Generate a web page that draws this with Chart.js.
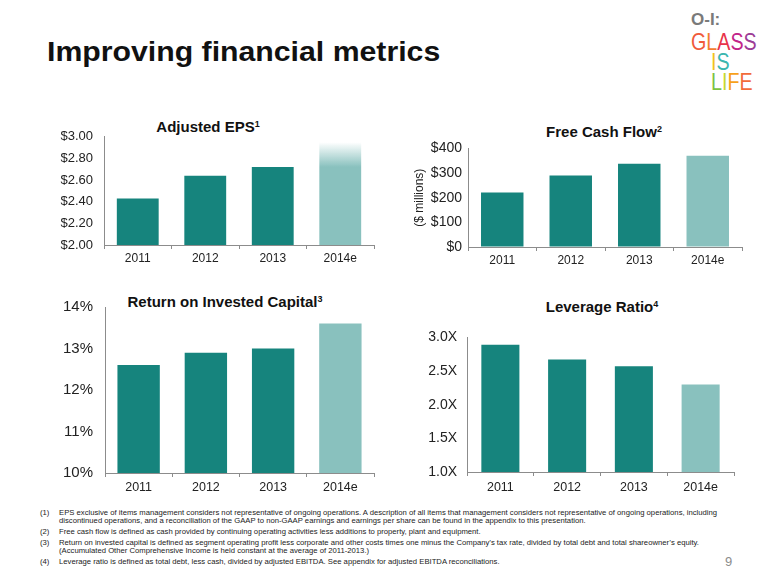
<!DOCTYPE html>
<html>
<head>
<meta charset="utf-8">
<script src="https://cdn.jsdelivr.net/npm/chart.js@4.4.0/dist/chart.umd.min.js"></script>
<style>
  body { margin: 0; background: #fff; width: 780px; height: 585px; position: relative; overflow: hidden;
         font-family: "Liberation Sans", Arial, sans-serif; color: #111; }
  canvas { position: absolute; }
  .t { position: absolute; white-space: nowrap; }
  .ct { position: absolute; white-space: nowrap; font-weight: bold; font-size: 15px; line-height: 15px; transform: translateX(-50%); color: #111; }
  .ct sup { font-size: 9px; vertical-align: 5px; line-height: 0; }
  .fn { position: absolute; white-space: nowrap; font-size: 7.7px; line-height: 8px; color: #222; }
  .logo { position: absolute; white-space: nowrap; font-size: 24px; line-height: 24px; transform-origin: left top; }
</style>
</head>
<body>

<div class="t" style="left:47px;top:39px;font-size:27px;line-height:27px;font-weight:bold;transform:scaleX(1.12);transform-origin:left top;">Improving financial metrics</div>

<!-- logo -->
<div class="logo" style="left:691px;top:11px;font-size:17px;line-height:17px;font-weight:bold;color:#7a7a7a;">O-I:</div>
<div class="logo" style="left:691px;top:30px;transform:scaleX(0.82);"><span style="color:#f05a3a">G</span><span style="color:#f47d30">L</span><span style="color:#e8334a">A</span><span style="color:#c2258a">S</span><span style="color:#9c3d97">S</span></div>
<div class="logo" style="left:711px;top:50px;transform:scaleX(0.82);"><span style="color:#f2c21c">I</span><span style="color:#3bb6b0">S</span></div>
<div class="logo" style="left:711px;top:70px;transform:scaleX(0.82);"><span style="color:#7cc242">L</span><span style="color:#c5d82e">I</span><span style="color:#f7a11a">F</span><span style="color:#f26b3a">E</span></div>

<div class="ct" style="left:208px;top:119px;">Adjusted EPS<sup>1</sup></div>
<div class="ct" style="left:604px;top:124px;">Free Cash Flow<sup>2</sup></div>
<div class="ct" style="left:225px;top:294px;">Return on Invested Capital<sup>3</sup></div>
<div class="ct" style="left:602px;top:299px;">Leverage Ratio<sup>4</sup></div>

<canvas id="eps" width="340" height="149" style="left:40px;top:118px;"></canvas>
<canvas id="fcf" width="368" height="135" style="left:380px;top:134px;"></canvas>
<canvas id="roic" width="340" height="211" style="left:40px;top:286px;"></canvas>
<canvas id="lev" width="360" height="177" style="left:380px;top:319px;"></canvas>

<div class="fn" style="left:40px;top:509px;">(1)</div>
<div class="fn" style="left:59px;top:509px;">EPS exclusive of items management considers not representative of ongoing operations. A description of all items that management considers not representative of ongoing operations, including</div>
<div class="fn" style="left:59px;top:517px;">discontinued operations, and a reconciliation of the GAAP to non-GAAP earnings and earnings per share can be found in the appendix to this presentation.</div>
<div class="fn" style="left:40px;top:528px;">(2)</div>
<div class="fn" style="left:59px;top:528px;">Free cash flow is defined as cash provided by continuing operating activities less additions to property, plant and equipment.</div>
<div class="fn" style="left:40px;top:539px;">(3)</div>
<div class="fn" style="left:59px;top:539px;">Return on invested capital is defined as segment operating profit less corporate and other costs times one minus the Company’s tax rate, divided by total debt and total shareowner’s equity.</div>
<div class="fn" style="left:59px;top:547px;">(Accumulated Other Comprehensive Income is held constant at the average of 2011-2013.)</div>
<div class="fn" style="left:40px;top:558px;">(4)</div>
<div class="fn" style="left:59px;top:558px;">Leverage ratio is defined as total debt, less cash, divided by adjusted EBITDA. See appendix for adjusted EBITDA reconciliations.</div>

<div class="t" style="left:725px;top:554px;font-size:13px;line-height:15px;color:#8c8c8c;">9</div>

<script>
// data
const years = ["2011", "2012", "2013", "2014e"];
const epsValues = [2.43, 2.64, 2.72, 2.95];
const epsFadeTo = 2.72; // 2014e bar fades out above this
const fcfValues = [221, 290, 338, 370];
const roicValues = [12.6, 12.9, 13.0, 13.6];
const leverageValues = [2.89, 2.67, 2.57, 2.30];

const DARK = "#16847d";
const LIGHT = "#89c1be";
const AXIS = "#8c8c8c";
const TEXT = "#222";

const barColors = years.map(y => y.endsWith("e") ? LIGHT : DARK);

function makeChart(id, values, o) {
  const ctx = document.getElementById(id).getContext("2d");
  return new Chart(ctx, {
    type: "bar",
    data: {
      labels: years,
      datasets: [{
        data: values,
        backgroundColor: o.bg || barColors,
        borderWidth: 0,
        categoryPercentage: 1,
        barPercentage: o.barPct,
      }],
    },
    options: {
      responsive: false,
      animation: false,
      devicePixelRatio: 1,
      layout: { padding: { top: 0, right: 6, bottom: 0, left: 0 } },
      plugins: { legend: { display: false }, tooltip: { enabled: false }, title: { display: false } },
      scales: {
        x: {
          grid: { drawOnChartArea: false, drawTicks: true, tickLength: 4, color: AXIS },
          border: { color: AXIS },
          ticks: { color: TEXT, font: { family: "Liberation Sans", size: o.xFont }, padding: o.xPad },
          afterFit: s => { s.height = o.xHeight; },
        },
        y: {
          min: o.min, max: o.max,
          grid: { drawOnChartArea: false, drawTicks: false },
          border: { color: AXIS },
          ticks: { stepSize: o.step, color: TEXT, padding: o.yPad,
                   font: { family: "Liberation Sans", size: o.yFont }, callback: o.fmt },
          title: o.yTitle ? { display: true, text: o.yTitle, color: TEXT,
                   font: { family: "Liberation Sans", size: 12 }, padding: { top: 32, bottom: 0 } } : { display: false },
          afterFit: s => { s.width = o.yWidth; },
        },
      },
    },
  });
}

// the 2014e EPS bar fades to white towards its top
const epsBg = c => {
  if (c.dataIndex !== 3) return DARK;
  const chart = c.chart;
  if (!chart.chartArea) return LIGHT;
  const y = chart.scales.y;
  const g = chart.ctx.createLinearGradient(0, y.getPixelForValue(epsValues[3]), 0, y.getPixelForValue(epsFadeTo));
  g.addColorStop(0, "rgba(137,193,190,0)");
  g.addColorStop(1, LIGHT);
  return g;
};

makeChart("eps", epsValues, {
  bg: epsBg, barPct: 0.62, min: 2, max: 3, step: 0.2, fmt: v => "$" + v.toFixed(2),
  yFont: 13, yPad: 11, yWidth: 64, xFont: 12, xPad: 2, xHeight: 22,
});
makeChart("fcf", fcfValues, {
  barPct: 0.62, min: 0, max: 400, step: 100, fmt: v => "$" + v,
  yFont: 14, yPad: 6, yWidth: 88, xFont: 12, xPad: 2, xHeight: 22, yTitle: "($ millions)",
});
makeChart("roic", roicValues, {
  barPct: 0.63, min: 10, max: 14, step: 1, fmt: v => v + "%",
  yFont: 15, yPad: 12, yWidth: 65, xFont: 12.5, xPad: 3, xHeight: 24,
});
makeChart("lev", leverageValues, {
  barPct: 0.57, min: 1, max: 3, step: 0.5, fmt: v => v.toFixed(1) + "X",
  yFont: 14, yPad: 10, yWidth: 87, xFont: 12.5, xPad: 4, xHeight: 24,
});
</script>
</body>
</html>
